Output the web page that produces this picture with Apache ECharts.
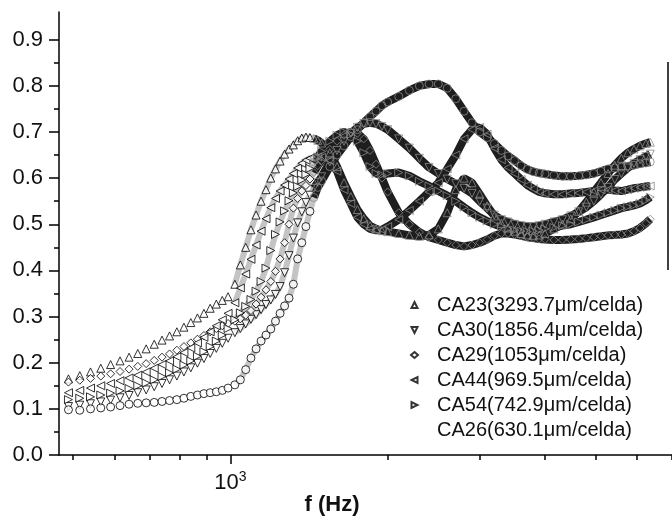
<!DOCTYPE html>
<html><head><meta charset="utf-8">
<script src="https://cdn.jsdelivr.net/npm/echarts@6/dist/echarts.min.js"></script>
<style>html,body{margin:0;padding:0;background:#fff}#c{width:672px;height:522px}</style>
</head><body><div id="c"></div>
<script>
// frequency points (Hz)
const freq = [490,515,540,565,590,615,640,665,690,715,740,765,790,815,840,865,890,915,940,965,990,1020,
  1045,1070,1095,1120,1145,1170,1195,1220,1245,1270,1295,1320,1345,1370,1395,1420,1445,1470,1495,
  1550,1600,1650,1700,1750,1800,1850,1900,1950,2000,
  2100,2200,2300,2400,2500,2600,2700,2800,2900,3000,3100,3200,3300,3400,3500,3600,3700,3800,3900,4000,
  4160,4320,4480,4640,4800,4960,5120,5280,5440,5600,5760,5920,6080,6240,6360];

const ca23 = [0.165,0.172,0.180,0.188,0.196,0.204,0.212,0.220,0.230,0.240,0.249,0.258,0.267,0.277,0.287,0.297,0.307,0.318,0.327,0.335,0.343,0.370,
  0.412,0.450,0.488,0.520,0.550,0.575,0.600,0.620,0.637,0.652,0.663,0.672,0.681,0.687,0.689,0.688,0.686,0.682,0.676,
  0.655,0.625,0.590,0.560,0.532,0.512,0.497,0.490,0.486,0.484,
  0.480,0.476,0.474,0.477,0.490,0.525,0.575,0.600,0.590,0.565,0.540,0.518,0.502,0.492,0.485,0.480,0.477,0.476,0.477,0.480,
  0.490,0.500,0.512,0.528,0.548,0.570,0.590,0.610,0.628,0.643,0.655,0.663,0.670,0.675,0.678];

const ca30 = [0.105,0.108,0.111,0.115,0.119,0.124,0.129,0.135,0.141,0.148,0.155,0.163,0.171,0.180,0.189,0.199,0.209,0.220,0.231,0.242,0.253,0.265,
  0.274,0.284,0.294,0.304,0.315,0.326,0.336,0.348,0.365,0.395,0.432,0.470,0.503,0.527,0.547,0.563,0.578,0.591,0.603,
  0.635,0.660,0.680,0.697,0.710,0.718,0.720,0.718,0.712,0.705,
  0.685,0.665,0.643,0.623,0.610,0.598,0.588,0.578,0.567,0.550,0.535,0.520,0.510,0.505,0.500,0.497,0.495,0.495,0.497,0.500,
  0.505,0.510,0.518,0.527,0.537,0.550,0.565,0.580,0.597,0.610,0.622,0.632,0.640,0.647,0.652];

const ca29 = [0.158,0.162,0.166,0.171,0.176,0.181,0.186,0.192,0.198,0.205,0.212,0.219,0.227,0.235,0.243,0.251,0.259,0.267,0.274,0.280,0.285,0.290,
  0.295,0.303,0.313,0.327,0.342,0.358,0.376,0.398,0.425,0.460,0.500,0.535,0.556,0.572,0.584,0.598,0.612,0.627,0.638,
  0.662,0.680,0.693,0.700,0.697,0.685,0.660,0.630,0.600,0.570,
  0.525,0.500,0.483,0.472,0.466,0.460,0.455,0.452,0.455,0.460,0.467,0.475,0.480,0.480,0.478,0.475,0.472,0.470,0.468,0.467,
  0.466,0.466,0.467,0.468,0.470,0.472,0.474,0.476,0.477,0.478,0.480,0.485,0.492,0.502,0.511];

const ca44 = [0.135,0.140,0.145,0.150,0.155,0.161,0.167,0.173,0.180,0.188,0.196,0.204,0.213,0.222,0.232,0.243,0.255,0.267,0.280,0.293,0.307,0.330,
  0.362,0.392,0.424,0.455,0.485,0.512,0.536,0.556,0.572,0.585,0.598,0.610,0.622,0.632,0.639,0.643,0.645,0.646,0.645,
  0.638,0.615,0.575,0.545,0.515,0.500,0.490,0.487,0.488,0.495,
  0.510,0.530,0.550,0.570,0.590,0.620,0.650,0.685,0.705,0.710,0.695,0.665,0.640,0.623,0.610,0.597,0.585,0.577,0.570,0.567,
  0.565,0.565,0.567,0.568,0.570,0.572,0.575,0.575,0.573,0.572,0.575,0.578,0.580,0.582,0.583];

const ca54 = [0.120,0.123,0.126,0.130,0.134,0.139,0.144,0.150,0.156,0.163,0.170,0.178,0.186,0.195,0.204,0.214,0.224,0.235,0.247,0.260,0.274,0.293,
  0.308,0.322,0.337,0.355,0.376,0.405,0.443,0.478,0.505,0.529,0.551,0.568,0.582,0.596,0.608,0.621,0.633,0.646,0.658,
  0.680,0.693,0.700,0.695,0.680,0.655,0.625,0.610,0.607,0.610,
  0.612,0.605,0.593,0.583,0.572,0.562,0.550,0.537,0.525,0.515,0.507,0.500,0.495,0.490,0.487,0.485,0.484,0.485,0.487,0.490,
  0.493,0.497,0.500,0.505,0.510,0.515,0.520,0.525,0.530,0.535,0.538,0.541,0.545,0.552,0.559];

const ca26 = [0.098,0.097,0.100,0.102,0.104,0.107,0.110,0.112,0.113,0.114,0.116,0.118,0.120,0.123,0.127,0.130,0.133,0.135,0.137,0.140,0.145,0.152,
  0.163,0.185,0.210,0.230,0.247,0.260,0.273,0.290,0.307,0.323,0.340,0.370,0.425,0.460,0.495,0.528,0.558,0.580,0.594,
  0.625,0.650,0.670,0.690,0.705,0.720,0.733,0.745,0.757,0.765,
  0.777,0.790,0.800,0.804,0.804,0.795,0.772,0.745,0.720,0.700,0.688,0.675,0.660,0.648,0.638,0.627,0.619,0.614,0.611,0.609,
  0.606,0.604,0.604,0.605,0.607,0.610,0.615,0.620,0.622,0.624,0.626,0.628,0.631,0.633,0.635];

const names = ['CA23(3293.7\u03bcm/celda)','CA30(1856.4\u03bcm/celda)','CA29(1053\u03bcm/celda)',
  'CA44(969.5\u03bcm/celda)','CA54(742.9\u03bcm/celda)','CA26(630.1\u03bcm/celda)'];
const values = [ca23, ca30, ca29, ca44, ca54, ca26];

const yTicks = [0,0.1,0.2,0.3,0.4,0.5,0.6,0.7,0.8,0.9];
const yMinorTicks = [0.05,0.15,0.25,0.35,0.45,0.55,0.65,0.75,0.85];
const xMinorTicks = [500,600,700,800,900,2000,3000,4000,5000,6000,7000];
const xMajorTicks = [1000];

const FONT = '"Liberation Sans", Arial, sans-serif';
const symbols = ['path://M0,-1L1,1L-1,1Z','path://M-1,-1L1,-1L0,1Z','diamond',
  'path://M1,-1L1,1L-1,0Z','path://M-1,-1L-1,1L1,0Z','circle'];
const lightFrom = 1020, denseFrom = 1445;

const series = [];
values.forEach((ys, i) => {
  const pts = freq.map((f, k) => [f, ys[k]]);
  series.push({
    type: 'line', name: 'light' + i, data: pts.filter(p => p[0] >= lightFrom && p[0] <= denseFrom),
    showSymbol: false, silent: true, z: 1,
    lineStyle: { width: 6, color: '#c4c4c4' }
  });
  series.push({
    type: 'line', name: 'band' + i, data: pts.filter(p => p[0] >= denseFrom),
    showSymbol: false, silent: true, z: 1,
    lineStyle: { width: 8, color: '#1e1e1e' }
  });
});
values.forEach((ys, i) => {
  series.push({
    type: 'scatter', name: names[i],
    symbol: symbols[i], symbolSize: 8, z: 2,
    itemStyle: { color: '#fff', borderColor: '#000', borderWidth: 1 },
    data: freq.map((f, k) => f >= denseFrom
      ? { value: [f, ys[k]], itemStyle: { color: 'rgba(0,0,0,0)', borderColor: '#8a8a8a' } }
      : [f, ys[k]])
  });
});

const chart = echarts.init(document.getElementById('c'), null, { renderer: 'canvas' });
chart.setOption({
  animation: false,
  backgroundColor: '#fff',
  grid: { left: 59, right: 0, top: 12, bottom: 67 },
  xAxis: [
    { type: 'log', min: 470, max: 7000, position: 'bottom',
      axisLine: { show: true, lineStyle: { color: '#000', width: 1.5 } },
      axisTick: { show: true, customValues: xMinorTicks, length: 5, lineStyle: { color: '#000', width: 1.5 } },
      axisLabel: { show: false }, splitLine: { show: false }, minorTick: { show: false } },
    { type: 'log', min: 470, max: 7000, position: 'bottom',
      axisLine: { show: false },
      axisTick: { show: true, customValues: xMajorTicks, length: 9, lineStyle: { color: '#000', width: 1.5 } },
      axisLabel: { show: true, customValues: xMajorTicks, margin: 15,
        formatter: () => '{b|10}{s|3}',
        rich: { b: { fontSize: 22, lineHeight: 26, fontFamily: FONT, color: '#111' },
                s: { fontSize: 14, lineHeight: 14, verticalAlign: 'top', fontFamily: FONT, color: '#111' } } },
      splitLine: { show: false } }
  ],
  yAxis: [
    { type: 'value', min: 0, max: 0.96, position: 'left',
      axisLine: { show: true, lineStyle: { color: '#000', width: 1.5 } },
      axisTick: { show: true, customValues: yTicks, length: 10, lineStyle: { color: '#000', width: 1.5 } },
      axisLabel: { show: true, customValues: yTicks, margin: 16, fontSize: 22, fontFamily: FONT, color: '#111',
        formatter: v => v.toFixed(1) },
      splitLine: { show: false } },
    { type: 'value', min: 0, max: 0.96, position: 'left',
      axisLine: { show: false },
      axisTick: { show: true, customValues: yMinorTicks, length: 5, lineStyle: { color: '#000', width: 1.5 } },
      axisLabel: { show: false }, splitLine: { show: false } }
  ],
  legend: {
    orient: 'vertical', left: 410, top: 295, padding: 0, itemGap: 5,
    itemWidth: 7, itemHeight: 6, selectedMode: false,
    textStyle: { fontSize: 20, lineHeight: 20, fontFamily: FONT, color: '#111', padding: [0, 0, 0, 14] },
    data: names.map((n, i) => i === 5
      ? { name: n, itemStyle: { color: 'rgba(0,0,0,0)', borderColor: 'rgba(0,0,0,0)' } }
      : { name: n })
  },
  graphic: [
    { type: 'text', x: 332, y: 505,
      style: { text: 'f (Hz)', font: 'bold 22px "Liberation Sans", Arial, sans-serif',
        align: 'center', verticalAlign: 'middle', fill: '#111' } },
    { type: 'line', shape: { x1: 668, y1: 62, x2: 668, y2: 270 },
      style: { stroke: '#000', lineWidth: 1.5 } }
  ],
  series: series
});
</script>
</body></html>
